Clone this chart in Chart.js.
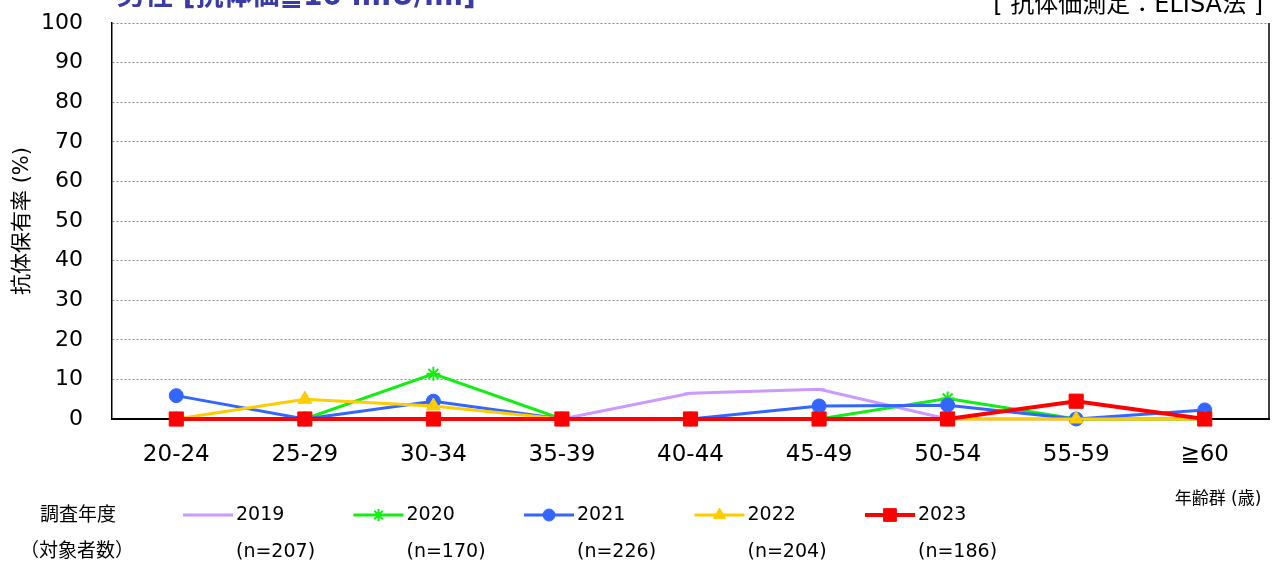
<!DOCTYPE html>
<html>
<head>
<meta charset="utf-8">
<script src="https://cdn.jsdelivr.net/npm/chart.js@4/dist/chart.umd.min.js"></script>
<style>
  html, body { margin: 0; padding: 0; background: #fff; }
  canvas { display: block; }
</style>
</head>
<body>
<canvas id="rateChart" width="1275" height="566"></canvas>
<script>
// Data
const categories = ['20-24', '25-29', '30-34', '35-39', '40-44', '45-49', '50-54', '55-59', '≧60'];
const years = ['2019', '2020', '2021', '2022', '2023'];
const sampleSizes = ['(n=207)', '(n=170)', '(n=226)', '(n=204)', '(n=186)'];
const rate2019 = [0, 0, 0, 0, 6.5, 7.5, 0, 0, 0];
const rate2020 = [0, 0, 11.4, 0, 0, 0, 5.2, 0, 0];
const rate2021 = [5.9, 0, 4.5, 0, 0, 3.3, 3.5, 0, 2.3];
const rate2022 = [0, 5.0, 3.3, 0, 0, 0, 0, 0, 0];
const rate2023 = [0, 0, 0, 0, 0, 0, 0, 4.5, 0];
const yMin = 0;
const yMax = 100;
const yStep = 10;

const FONT = '"DejaVu Sans", "Noto Sans CJK JP", sans-serif';

// line styles per year
const styles = [
  { color: '#cc99ff', pointStyle: 'line', radius: 6, width: 3 },
  { color: '#11ee11', pointStyle: 'star', radius: 7, width: 3 },
  { color: '#3366ff', pointStyle: 'circle', radius: 7, width: 3 },
  { color: '#ffcc00', pointStyle: 'triangle', radius: 8, width: 3 },
  { color: '#ff0000', pointStyle: 'rect', radius: 10, width: 4 }
];
const seriesValues = [rate2019, rate2020, rate2021, rate2022, rate2023];

const datasets = years.map((year, i) => ({
  label: year,
  data: seriesValues[i],
  borderColor: styles[i].color,
  backgroundColor: styles[i].color,
  borderWidth: styles[i].width,
  pointStyle: styles[i].pointStyle,
  pointRadius: styles[i].radius,
  pointBorderWidth: styles[i].pointStyle === 'line' || styles[i].pointStyle === 'star' ? 2 : 1,
  pointBorderColor: styles[i].color,
  pointBackgroundColor: styles[i].color,
  tension: 0,
  clip: false,
  order: years.length - i // 2023 ends up on top
}));

// Texts, frame and legend drawn around the plot
const decorPlugin = {
  id: 'decorPlugin',
  afterDraw(chart) {
    const { ctx, chartArea: { left, right, top, bottom } } = chart;
    ctx.save();

    // right frame line
    ctx.strokeStyle = '#000';
    ctx.lineWidth = 1.5;
    ctx.beginPath();
    ctx.moveTo(right, top);
    ctx.lineTo(right, bottom);
    ctx.stroke();

    // title (cut off at the top edge like the reference)
    ctx.fillStyle = '#3b3ba6';
    ctx.font = 'bold 28px ' + FONT;
    ctx.textAlign = 'left';
    ctx.textBaseline = 'alphabetic';
    ctx.fillText('男性 [抗体価≧10 mIU/ml]', 117, 5);

    ctx.fillStyle = '#000';
    ctx.font = '24px ' + FONT;
    ctx.textAlign = 'right';
    ctx.fillText('[ 抗体価測定：ELISA法 ]', 1263, 12);

    // x axis unit
    ctx.font = '17px ' + FONT;
    ctx.textAlign = 'center';
    ctx.textBaseline = 'middle';
    ctx.fillText('年齢群 (歳)', 1218, 500);

    // legend
    ctx.font = '19px ' + FONT;
    ctx.fillText('調査年度', 78, 516);
    ctx.fillText('（対象者数）', 77, 552);

    const drawPoint = Chart.helpers && Chart.helpers.drawPoint;
    years.forEach((year, i) => {
      const st = styles[i];
      const x0 = 183 + i * 170.5;
      const y0 = 515;
      ctx.strokeStyle = st.color;
      ctx.fillStyle = st.color;
      ctx.lineWidth = st.width;
      ctx.beginPath();
      ctx.moveTo(x0, y0);
      ctx.lineTo(x0 + 50, y0);
      ctx.stroke();
      if (drawPoint) {
        ctx.lineWidth = st.pointStyle === 'line' || st.pointStyle === 'star' ? 2 : 1;
        drawPoint(ctx, { pointStyle: st.pointStyle, radius: st.radius - 1, borderWidth: ctx.lineWidth, rotation: 0 }, x0 + 25, y0);
      }
      ctx.fillStyle = '#000';
      ctx.textAlign = 'left';
      ctx.font = '19px ' + FONT;
      ctx.fillText(year, x0 + 53, y0);
      ctx.fillText(sampleSizes[i], x0 + 53, 552);
    });

    ctx.restore();
  }
};

const ctx = document.getElementById('rateChart').getContext('2d');

new Chart(ctx, {
  type: 'line',
  data: { labels: categories, datasets: datasets },
  options: {
    responsive: false,
    animation: false,
    layout: { autoPadding: false, padding: { top: 23, right: 6, left: 0, bottom: 0 } },
    plugins: {
      legend: { display: false },
      tooltip: { enabled: false }
    },
    scales: {
      x: {
        offset: true,
        grid: { display: false, drawTicks: false, offset: true },
        border: { color: '#000', width: 2 },
        ticks: { color: '#000', padding: 22, font: { family: FONT, size: 23 }, maxRotation: 0 },
        afterFit: s => { s.height = 566 - 419; s.paddingLeft = 0; s.paddingRight = 0; }
      },
      y: {
        min: yMin,
        max: yMax,
        grid: { color: '#888', lineWidth: 1, drawTicks: false },
        border: { color: '#000', width: 1.5, dash: [2, 2] },
        ticks: { stepSize: yStep, color: '#000', padding: 29, font: { family: FONT, size: 22 } },
        title: { display: true, text: '抗体保有率 (%)', color: '#000', font: { family: FONT, size: 21 }, padding: { top: 10, bottom: 0 } },
        // fixed width, and no extra room above/below for the tick labels
        afterFit: s => { s.width = 112; s.paddingTop = 0; s.paddingBottom = 0; }
      }
    }
  },
  plugins: [decorPlugin]
});
</script>
</body>
</html>
